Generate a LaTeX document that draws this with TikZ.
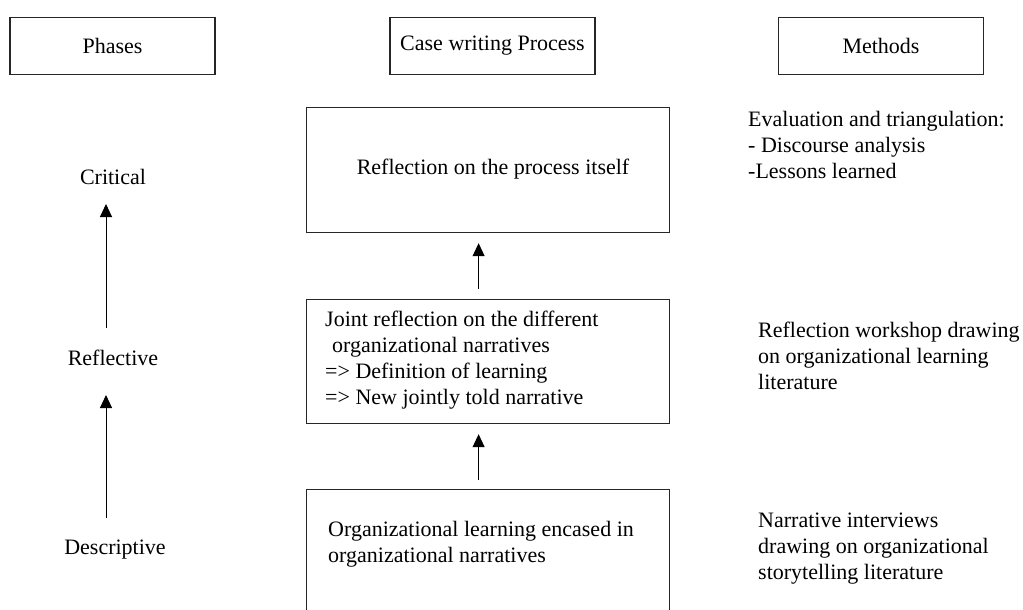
\documentclass[tikz,border=0pt]{standalone}
\usepackage{fontspec}
\setmainfont{Liberation Serif}
\usetikzlibrary{arrows.meta}
\begin{document}
\begin{tikzpicture}[x=1pt,y=-1pt,
  every node/.style={font=\fontsize{22}{26}\selectfont, text=black},
  headbox/.style={draw=black!85, line width=1.2pt, minimum width=205pt, minimum height=57pt, inner sep=0pt},
  bigbox/.style={draw=black!85, line width=1.2pt, minimum width=363pt, inner sep=0pt, anchor=north west},
  txt/.style={inner sep=0pt, align=left, anchor=west},
  arr/.style={line width=1pt, -{Triangle[width=12pt,length=13pt]}}
]
\useasboundingbox (0,0) rectangle (1023,610);
\clip (0,0) rectangle (1023,610);
% header boxes
\node[headbox] (hp) at (112.5,46) {Phases};
\node[headbox] (hc) at (492.5,46) {Case writing Process};
\node[headbox] (hm) at (881,46) {Methods};
% phases column
\node[inner sep=0pt] (crit) at (113,177) {Critical};
\node[inner sep=0pt] (refl) at (113,358) {Reflective};
\node[inner sep=0pt] (desc) at (115,550) {Descriptive};
\coordinate (a1s) at (106,518);
\coordinate (a1e) at (106,395);
\coordinate (a2s) at (106,328);
\coordinate (a2e) at (106,204);
\draw[arr] (a1s) -- (a1e);
\draw[arr] (a2s) -- (a2e);
% process column
\node[bigbox, minimum height=125pt] (b1) at (306,107) {};
\node[inner sep=0pt] (b1t) at (493,169) {Reflection on the process itself};
\node[bigbox, minimum height=124pt] (b2) at (306,299) {};
\node[txt] (b2t) at (325,360) {Joint reflection on the different\\\hspace*{7pt}organizational narratives\\=> Definition of learning\\=> New jointly told narrative};
\node[bigbox, minimum height=160pt] (b3) at (306,489) {};
\node[txt] (b3t) at (328,544) {Organizational learning encased in\\organizational narratives};
\draw[arr, shorten <=10pt, shorten >=10pt] ([xshift=-9.5pt]b2.north) -- ([xshift=-9.5pt]b1.south);
\draw[arr, shorten <=9pt, shorten >=10pt] ([xshift=-9.5pt]b3.north) -- ([xshift=-9.5pt]b2.south);
% methods column
\node[txt] (m1) at (748,145) {Evaluation and triangulation:\\- Discourse analysis\\-Lessons learned};
\node[txt] (m2) at (758,356) {Reflection workshop drawing\\on organizational learning\\literature};
\node[txt] (m3) at (758,549) {Narrative interviews\\drawing on organizational\\storytelling literature};
\end{tikzpicture}
\end{document}
